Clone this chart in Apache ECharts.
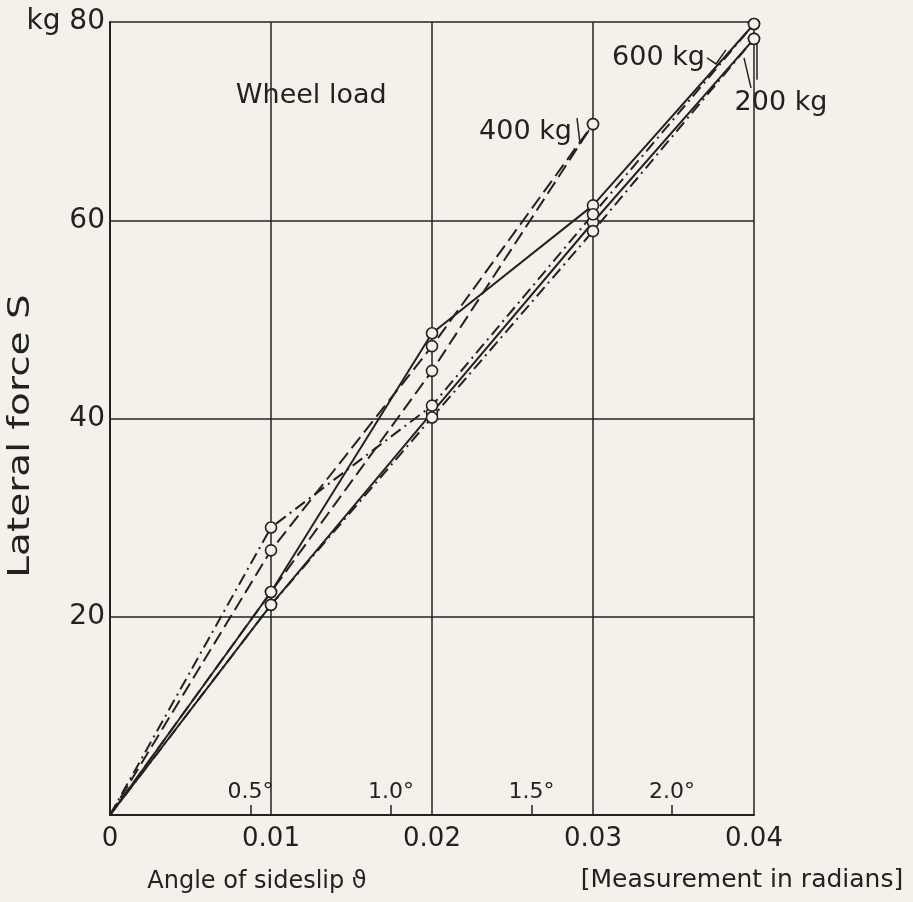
<!DOCTYPE html>
<html>
<head>
<meta charset="utf-8">
<script src="https://cdn.jsdelivr.net/npm/echarts@6/dist/echarts.min.js"></script>
<style>
html,body{margin:0;padding:0;background:#f3f1ea;}
#c{width:913px;height:902px;}
</style>
</head>
<body>
<div id="c"></div>
<script>
// Angle of sideslip (radians)
const xs = [0, 0.01, 0.02, 0.03, 0.04];
const xs3 = [0, 0.01, 0.02, 0.03];
// Lateral force S (kg), two runs per wheel load
const solidA = [0, 22.5, 48.6, 61.5, 79.8];   // 200 kg
const solidB = [0, 21.2, 40.6, 59.8, 78.3];   // 200 kg
const dashA  = [0, 26.7, 47.3, 69.7];         // 400 kg
const dashB  = [0, 22.5, 44.8, 69.7];         // 400 kg
const dotA   = [0, 29.0, 41.3, 60.6, 79.8];   // 600 kg
const dotB   = [0, 21.2, 40.1, 58.9, 78.3];   // 600 kg
const yTicks = [0, 20, 40, 60, 80];
const degTicks = [0.5, 1.0, 1.5, 2.0];
const degLabels = ['0.5°', '1.0°', '1.5°', '2.0°'];

const INK = '#222';
const BG = '#f3f1ea';
const FONT = 'DejaVu Sans';

function pairs(x, y){
  return y.map((v,i)=> i === 0 ? {value: [x[i], v], symbol: 'none'} : [x[i], v]);
}
function mk(name, x, y, dash){
  return {
    name: name, type: 'line', data: pairs(x, y),
    symbol: 'circle', symbolSize: 11, showSymbol: true,
    itemStyle: {color: BG, borderColor: INK, borderWidth: 1.6},
    lineStyle: {color: INK, width: 2, type: dash},
    z: 5, animation: false
  };
}
const degRad = degTicks.map(d => d * Math.PI / 180);

const chart = echarts.init(document.getElementById('c'), null, {renderer: 'canvas'});
chart.setOption({
  backgroundColor: BG,
  animation: false,
  grid: {left: 110, right: 159, top: 22, bottom: 87},
  xAxis: [{
    type: 'value', min: 0, max: 0.04, interval: 0.01,
    axisLine: {show: true, lineStyle: {color: INK, width: 2}},
    axisTick: {show: false},
    splitLine: {show: true, lineStyle: {color: INK, width: 1.5}},
    axisLabel: {color: INK, fontSize: 26, fontFamily: FONT, margin: 11,
      formatter: v => v === 0 ? '0' : v.toFixed(2)}
  }, {
    type: 'value', min: 0, max: 0.04, position: 'bottom', gridIndex: 0,
    axisLine: {show: false},
    axisTick: {show: true, inside: true, length: 10, customValues: degRad,
      lineStyle: {color: INK, width: 1.5}},
    splitLine: {show: false},
    axisLabel: {show: true, inside: true, margin: 12, customValues: degRad,
      color: INK, fontSize: 22, fontFamily: FONT,
      formatter: v => {
        const i = degRad.findIndex(r => Math.abs(r - v) < 1e-6);
        return i >= 0 ? degLabels[i] : '';
      }}
  }],
  yAxis: {
    type: 'value', min: 0, max: 80, interval: 20,
    axisLine: {show: true, lineStyle: {color: INK, width: 2}},
    axisTick: {show: false},
    splitLine: {show: true, lineStyle: {color: INK, width: 1.5}},
    axisLabel: {color: INK, fontSize: 28, fontFamily: FONT, margin: 5,
      formatter: v => v === 0 ? '' : (v === 80 ? 'kg 80' : String(v))}
  },
  series: [
    mk('200 kg a', xs, solidA, 'solid'),
    mk('200 kg b', xs, solidB, 'solid'),
    mk('400 kg a', xs3, dashA, [14, 6]),
    mk('400 kg b', xs3, dashB, [14, 6]),
    mk('600 kg a', xs, dotA, [12, 5, 2, 5]),
    mk('600 kg b', xs, dotB, [12, 5, 2, 5])
  ]
});

function px(x, y){ return chart.convertToPixel({gridIndex: 0}, [x, y]); }
const p400 = px(0.03, 69.7);
const p200 = px(0.04, 78.3);
const pWheel = px(0.0125, 72.5);
const txt = (x, y, s, align, size) => ({type: 'text', x: x, y: y,
  style: {text: s, fill: INK, font: (size || 27) + 'px "' + FONT + '"', textAlign: align || 'left', textVerticalAlign: 'middle'}});
const pl = (pts) => ({type: 'polyline', shape: {points: pts}, style: {stroke: INK, lineWidth: 1.5, fill: null}});
const rel = (p, arr) => arr.map(a => [p[0] + a[0], p[1] + a[1]]);
chart.setOption({
  graphic: [
    txt(pWheel[0], pWheel[1], 'Wheel load', 'center'),
    txt(p400[0] - 21, p400[1] + 8, '400 kg', 'right'),
    pl(rel(p400, [[-16, -6], [-13, 19], [-4, 6]])),
    txt(p200[0] - 49, p200[1] + 19, '600 kg', 'right'),
    pl(rel(p200, [[-47, 19], [-38, 25], [-28, 11]])),
    txt(p200[0] + 27, p200[1] + 64, '200 kg', 'center'),
    pl(rel(p200, [[-10, 19], [-3, 49]])),
    pl(rel(p200, [[3, 3], [3, 41]])),
    txt(257, 882, 'Angle of sideslip ϑ', 'center', 24),
    txt(742, 880, '[Measurement in radians]', 'center', 25),
    {type: 'text', x: 21, y: 436, rotation: Math.PI / 2, scaleX: 1.3,
      style: {text: 'Lateral force S', fill: INK, font: '30px "' + FONT + '"',
        textAlign: 'center', textVerticalAlign: 'middle'}}
  ]
});
</script>
</body>
</html>
